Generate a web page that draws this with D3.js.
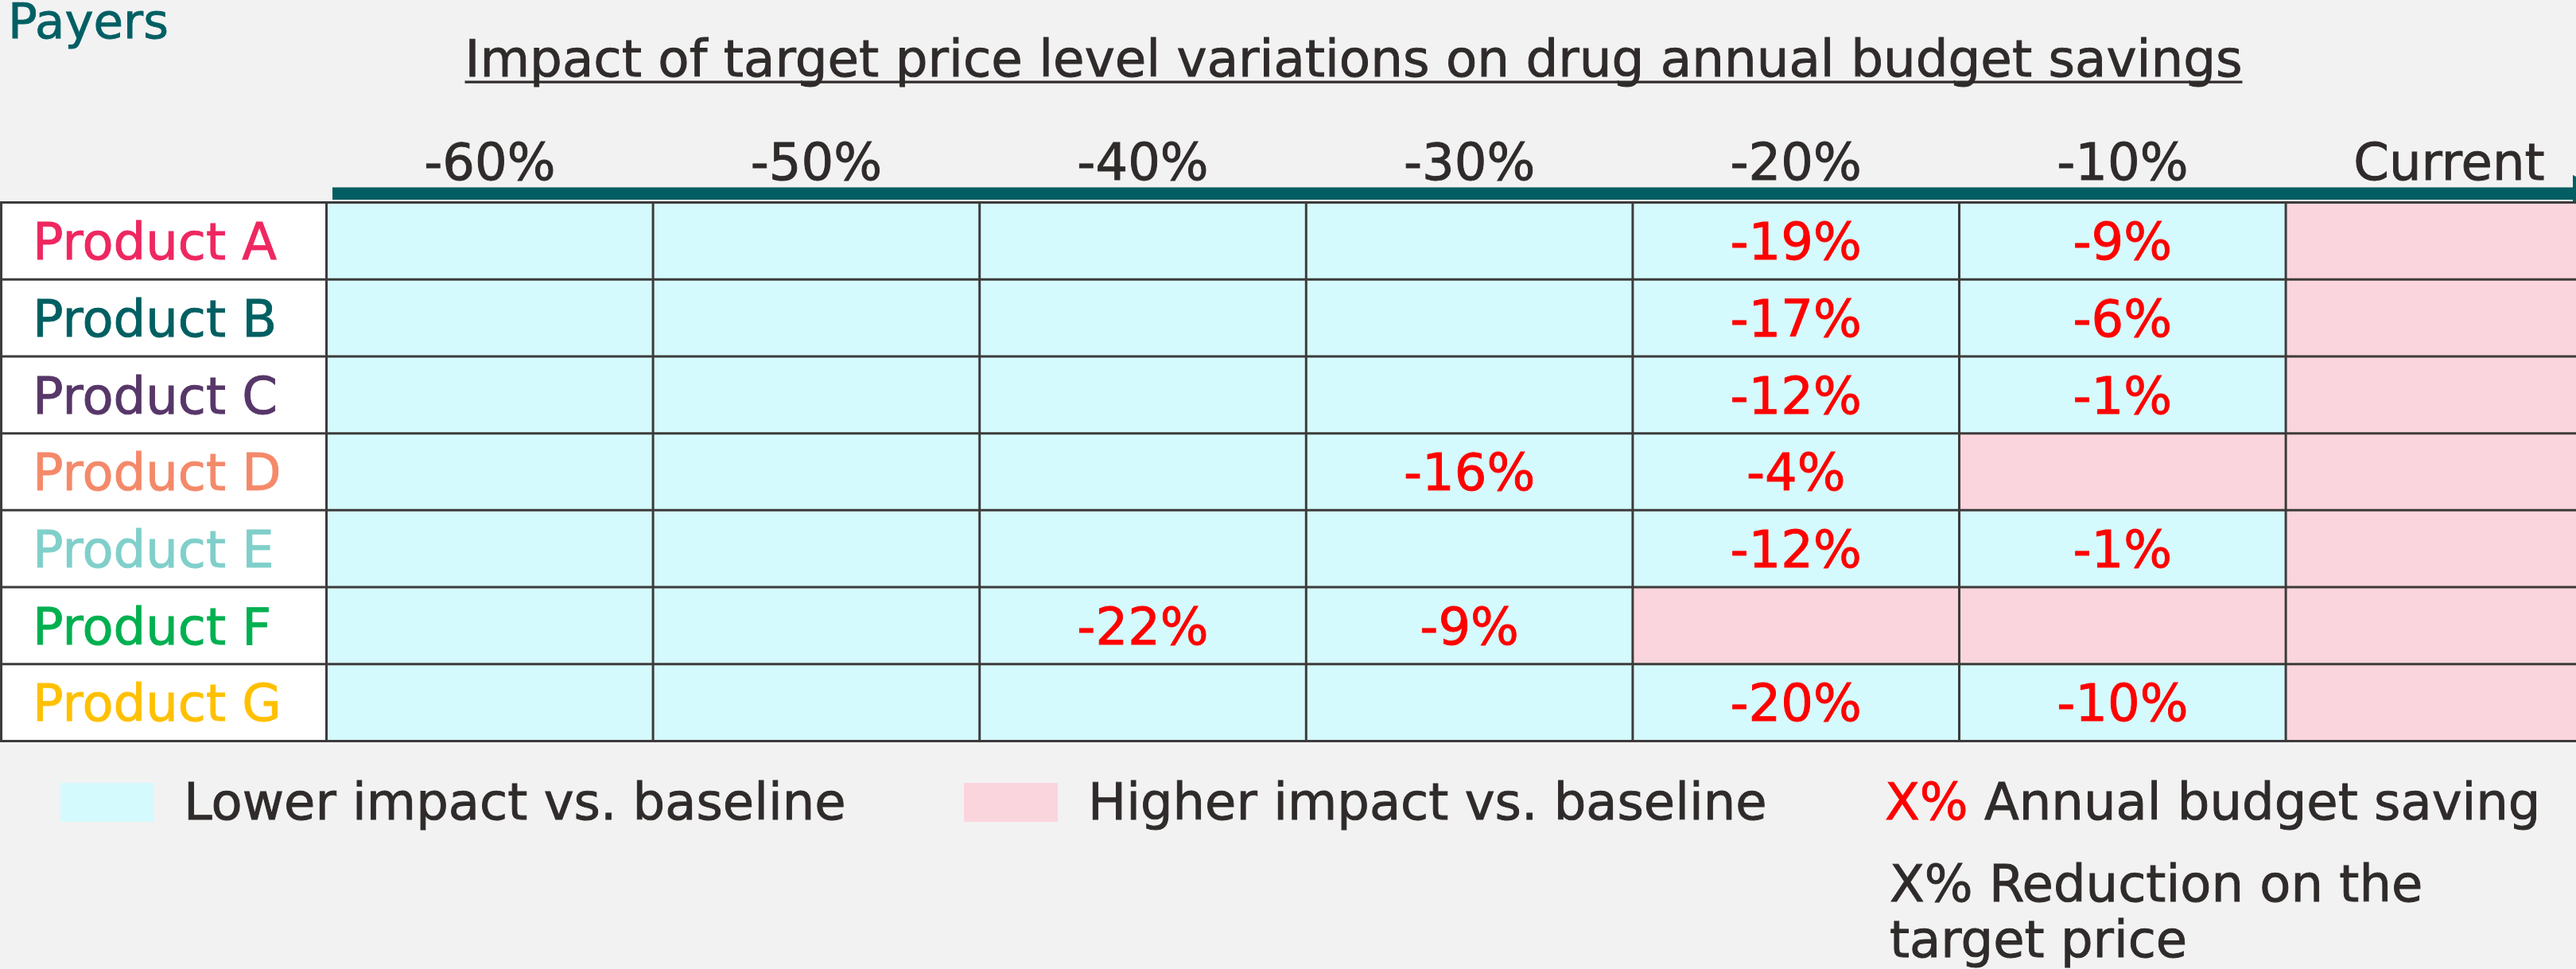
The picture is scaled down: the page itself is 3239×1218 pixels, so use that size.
<!DOCTYPE html>
<html>
<head>
<meta charset="utf-8">
<script src="https://cdn.jsdelivr.net/npm/d3@7/dist/d3.min.js"></script>
<style>
  html, body { margin: 0; padding: 0; background: #f2f2f2; }
  svg { display: block; }
  text { font-family: "DejaVu Sans", Verdana, sans-serif; stroke-width: 0.9px; paint-order: stroke; }
</style>
</head>
<body>
<svg id="chart" width="3239" height="1218"></svg>
<script>
// ---- data ----
const columns = ["-60%", "-50%", "-40%", "-30%", "-20%", "-10%", "Current"];
const products = ["Product A", "Product B", "Product C", "Product D", "Product E", "Product F", "Product G"];
const productColors = ["#ee2760", "#005f62", "#573668", "#f4896a", "#80cfca", "#00b050", "#ffc000"];
// impact vs baseline per product, per column: L = lower, H = higher
const impactA = ["L", "L", "L", "L", "L", "L", "H"];
const impactB = ["L", "L", "L", "L", "L", "L", "H"];
const impactC = ["L", "L", "L", "L", "L", "L", "H"];
const impactD = ["L", "L", "L", "L", "L", "H", "H"];
const impactE = ["L", "L", "L", "L", "L", "L", "H"];
const impactF = ["L", "L", "L", "L", "H", "H", "H"];
const impactG = ["L", "L", "L", "L", "L", "L", "H"];
// annual budget saving per product, per column (null = blank)
const savingA = [null, null, null, null, -19, -9, null];
const savingB = [null, null, null, null, -17, -6, null];
const savingC = [null, null, null, null, -12, -1, null];
const savingD = [null, null, null, -16, -4, null, null];
const savingE = [null, null, null, null, -12, -1, null];
const savingF = [null, null, -22, -9, null, null, null];
const savingG = [null, null, null, null, -20, -10, null];
const impacts = [impactA, impactB, impactC, impactD, impactE, impactF, impactG];
const savings = [savingA, savingB, savingC, savingD, savingE, savingF, savingG];

const titleText = "Impact of target price level variations on drug annual budget savings";
const sectionText = "Payers";
const legendLower = "Lower impact vs. baseline";
const legendHigher = "Higher impact vs. baseline";

// ---- layout ----
const svg = d3.select("#chart");
const FS = 64;
const textColor = "#2f2b2a";
const lowFill = "#d5fafd";
const highFill = "#fbd5dd";
const gridColor = "#3d3b3b";
const teal = "#025e63";

const labelLeft = 1.5, labelRight = 410.5;
const colW = 410.6;
const x = d3.scaleBand().domain(columns).range([labelRight, labelRight + colW * columns.length]).padding(0);
const y = d3.scaleBand().domain(products).range([254.5, 931.5]).padding(0);

function colored(sel, c) { return sel.attr("fill", c).attr("stroke", c); }

// section label
colored(svg.append("text").attr("x", 10).attr("y", 48)
  .attr("font-size", 61).text(sectionText), "#005f64");

// title
const tw = 2235;
colored(svg.append("text").attr("x", 1702).attr("y", 96)
  .attr("text-anchor", "middle").attr("font-size", FS)
  .attr("textLength", tw).attr("lengthAdjust", "spacingAndGlyphs")
  .text(titleText), textColor);
svg.append("rect").attr("x", 1702 - tw / 2).attr("y", 101.5).attr("width", tw).attr("height", 3.2).attr("fill", textColor);

// header labels
colored(svg.selectAll("text.hdr").data(columns).join("text").attr("class", "hdr")
  .attr("x", d => x(d) + x.bandwidth() / 2).attr("y", 226)
  .attr("text-anchor", "middle").attr("font-size", FS)
  .text(d => d), textColor);

// arrow
svg.append("rect").attr("x", 418).attr("y", 235.5).attr("width", 3236 - 418).attr("height", 15.5).attr("fill", teal);
svg.append("path").attr("d", "M3235,220 L3283,243.3 L3235,267 Z").attr("fill", teal);

// label column
svg.append("rect").attr("x", labelLeft).attr("y", y.range()[0]).attr("width", labelRight - labelLeft)
  .attr("height", y.range()[1] - y.range()[0]).attr("fill", "#ffffff");

// cells
const cells = [];
products.forEach((p, i) => columns.forEach((c, j) => cells.push({ p, c, imp: impacts[i][j], val: savings[i][j] })));
svg.selectAll("rect.cell").data(cells).join("rect").attr("class", "cell")
  .attr("x", d => x(d.c)).attr("y", d => y(d.p))
  .attr("width", x.bandwidth()).attr("height", y.bandwidth())
  .attr("fill", d => d.imp === "H" ? highFill : lowFill);

// grid lines
const gGrid = svg.append("g").attr("stroke", gridColor).attr("stroke-width", 3);
const yEdges = products.map(p => y(p)).concat([y.range()[1]]);
yEdges.forEach(v => gGrid.append("line").attr("x1", 0).attr("x2", 3239).attr("y1", v).attr("y2", v));
const xEdges = [labelLeft].concat(columns.map(c => x(c)));
xEdges.forEach(v => gGrid.append("line").attr("x1", v).attr("x2", v).attr("y1", y.range()[0]).attr("y2", y.range()[1]));

// product labels
svg.selectAll("text.prod").data(products).join("text").attr("class", "prod")
  .attr("x", 41).attr("y", d => y(d) + y.bandwidth() / 2 + 0.364 * FS)
  .attr("font-size", FS)
  .attr("fill", (d, i) => productColors[i]).attr("stroke", (d, i) => productColors[i])
  .text(d => d);

// values
colored(svg.selectAll("text.val").data(cells.filter(d => d.val !== null)).join("text").attr("class", "val")
  .attr("x", d => x(d.c) + x.bandwidth() / 2).attr("y", d => y(d.p) + y.bandwidth() / 2 + 0.364 * FS)
  .attr("text-anchor", "middle").attr("font-size", FS)
  .text(d => d.val + "%"), "#ff0000");

// legend
svg.append("rect").attr("x", 76).attr("y", 984).attr("width", 118).attr("height", 49).attr("fill", lowFill);
colored(svg.append("text").attr("x", 231).attr("y", 1030).attr("font-size", FS).text(legendLower), textColor);
svg.append("rect").attr("x", 1212).attr("y", 984).attr("width", 118).attr("height", 49).attr("fill", highFill);
colored(svg.append("text").attr("x", 1368).attr("y", 1030).attr("font-size", FS).text(legendHigher), textColor);

const l3 = colored(svg.append("text").attr("x", 2370).attr("y", 1030).attr("font-size", FS), textColor);
colored(l3.append("tspan"), "#ff0000").text("X%");
l3.append("tspan").text(" Annual budget saving");
colored(svg.append("text").attr("x", 2376).attr("y", 1133).attr("font-size", FS).text("X% Reduction on the"), textColor);
colored(svg.append("text").attr("x", 2376).attr("y", 1203).attr("font-size", FS).text("target price"), textColor);
</script>
</body>
</html>
